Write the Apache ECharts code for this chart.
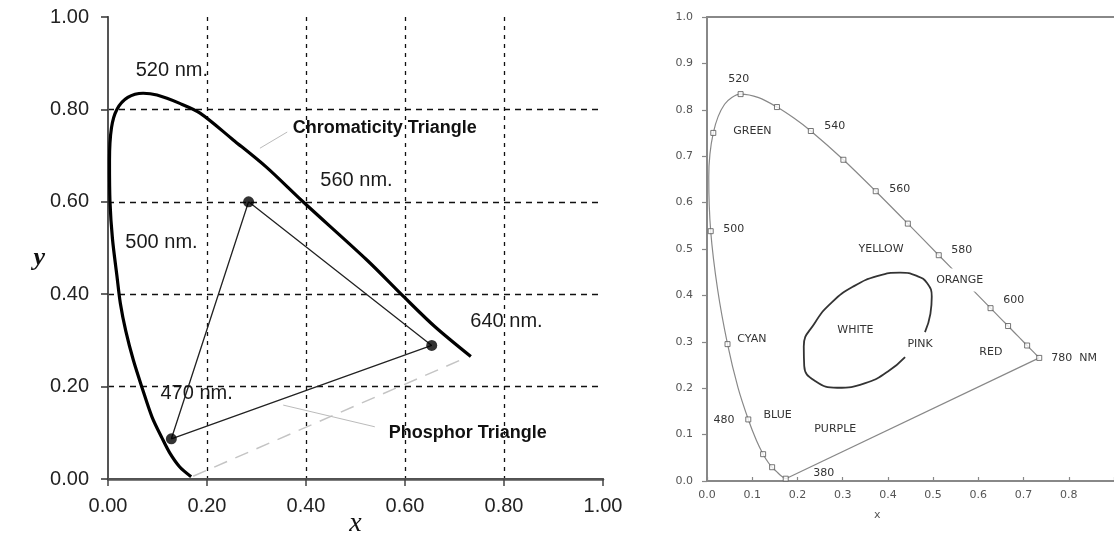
<!DOCTYPE html>
<html>
<head>
<meta charset="utf-8">
<script src="https://cdn.jsdelivr.net/npm/echarts@6.0.0/dist/echarts.min.js"></script>
<style>
html, body { margin: 0; padding: 0; background: #fff; }
#main { width: 1114px; height: 537px; }
</style>
</head>
<body>
<div id="main"></div>
<script>
// ---- left panel ----
var locusLeft = [
    [0.168, 0.005], [0.145, 0.026], [0.125, 0.056], [0.109, 0.089], [0.089, 0.134],
    [0.069, 0.197], [0.051, 0.258], [0.036, 0.320], [0.025, 0.380], [0.018, 0.440],
    [0.009, 0.520], [0.004, 0.600], [0.003, 0.690], [0.007, 0.760], [0.018, 0.800],
    [0.040, 0.826], [0.071, 0.835], [0.099, 0.831], [0.145, 0.813], [0.186, 0.792],
    [0.253, 0.734], [0.320, 0.675], [0.394, 0.600], [0.523, 0.474], [0.598, 0.394],
    [0.660, 0.330], [0.733, 0.265]
];
var phosphor = [[0.284, 0.600], [0.654, 0.289], [0.128, 0.087]];
var purpleLeft = [[0.172, 0.006], [0.722, 0.262]];
var leaderChroma = [[0.307, 0.716], [0.362, 0.751]];
var leaderPhos = [[0.354, 0.160], [0.539, 0.113]];
var notesLeft = [
    [0.055, 0.885, '520 nm.'],
    [0.034, 0.513, '500 nm.'],
    [0.428, 0.647, '560 nm.'],
    [0.731, 0.340, '640 nm.'],
    [0.105, 0.186, '470 nm.']
];
var notesLeftBold = [
    [0.372, 0.760, 'Chromaticity Triangle'],
    [0.566, 0.100, 'Phosphor Triangle']
];
var ticksLeft = ['0.00', '0.20', '0.40', '0.60', '0.80', '1.00'];

// ---- right panel ----
var locusRight = [
    [0.1741, 0.0050], [0.1644, 0.0109], [0.1566, 0.0177], [0.1440, 0.0297], [0.1355, 0.0399],
    [0.1241, 0.0578], [0.1096, 0.0868], [0.0913, 0.1327], [0.0687, 0.2007], [0.0454, 0.2950],
    [0.0235, 0.4127], [0.0082, 0.5384], [0.0039, 0.6548], [0.0139, 0.7502], [0.0389, 0.8120],
    [0.0743, 0.8338], [0.1142, 0.8262], [0.1547, 0.8059], [0.1929, 0.7816], [0.2296, 0.7543],
    [0.3016, 0.6923], [0.3731, 0.6245], [0.4441, 0.5547], [0.5125, 0.4866], [0.5752, 0.4242],
    [0.6270, 0.3725], [0.6658, 0.3340], [0.6915, 0.3083], [0.7079, 0.2920], [0.7190, 0.2809],
    [0.7300, 0.2700], [0.7347, 0.2653]
];
var markersRight = [
    [0.1741, 0.0050], [0.1440, 0.0297], [0.1241, 0.0578], [0.0913, 0.1327], [0.0454, 0.2950],
    [0.0082, 0.5384], [0.0139, 0.7502], [0.0743, 0.8338], [0.1547, 0.8059], [0.2296, 0.7543],
    [0.3016, 0.6923], [0.3731, 0.6245], [0.4441, 0.5547], [0.5125, 0.4866], [0.6270, 0.3725],
    [0.6658, 0.3340], [0.7079, 0.2920], [0.7347, 0.2653]
];
var purpleRight = [[0.1741, 0.0050], [0.7347, 0.2653]];
var whiteArea = [
    [0.482, 0.321], [0.494, 0.360], [0.497, 0.397], [0.487, 0.426], [0.464, 0.442],
    [0.427, 0.449], [0.378, 0.442], [0.325, 0.420], [0.276, 0.385], [0.238, 0.340],
    [0.214, 0.290], [0.215, 0.248], [0.240, 0.215], [0.288, 0.201], [0.350, 0.211],
    [0.400, 0.236], [0.438, 0.267]
];
var notesRight = [
    [0.046, 0.866, '520'], [0.057, 0.754, 'GREEN'], [0.258, 0.765, '540'],
    [0.035, 0.543, '500'], [0.402, 0.629, '560'], [0.334, 0.500, 'YELLOW'],
    [0.539, 0.498, '580'], [0.654, 0.390, '600'],
    [0.287, 0.325, 'WHITE'], [0.442, 0.295, 'PINK'], [0.601, 0.278, 'RED'],
    [0.760, 0.265, '780  NM'], [0.066, 0.306, 'CYAN'], [0.013, 0.131, '480'],
    [0.124, 0.142, 'BLUE'], [0.236, 0.112, 'PURPLE'], [0.234, 0.017, '380']
];
var noteOrange = [[0.499, 0.433, 'ORANGE']];
var ticksRightX = ['0.0', '0.1', '0.2', '0.3', '0.4', '0.5', '0.6', '0.7', '0.8', ''];
var ticksRightY = ['0.0', '0.1', '0.2', '0.3', '0.4', '0.5', '0.6', '0.7', '0.8', '0.9', '1.0'];

var chart = echarts.init(document.getElementById('main'));

function line(data, xi, yi, color, width, type, smooth) {
    return {
        type: 'line', xAxisIndex: xi, yAxisIndex: yi, data: data,
        symbol: 'none', smooth: smooth || false, silent: true,
        lineStyle: { color: color, width: width, type: type || 'solid' },
        z: 3
    };
}

function notes(data, xi, yi, font) {
    return {
        type: 'scatter', xAxisIndex: xi, yAxisIndex: yi, data: data,
        symbolSize: 1, silent: true, itemStyle: { color: 'rgba(0,0,0,0)' },
        label: {
            show: true, position: 'right', distance: 0,
            formatter: function(p) { return p.value[2]; },
            fontFamily: font.family, fontSize: font.size, fontWeight: font.weight || 'normal',
            color: font.color, opacity: 1,
            backgroundColor: font.bg || 'transparent', padding: font.pad || 0
        },
        z: 5
    };
}

var leftFont = 'Liberation Sans';
var rightFont = 'DejaVu Sans';

var option = {
    animation: false,
    backgroundColor: '#fff',
    grid: [
        { left: 108, top: 17, width: 495, height: 462, outerBoundsMode: 'none', containLabel: false },
        { left: 707, top: 17, width: 407, height: 464, outerBoundsMode: 'none', containLabel: false }
    ],
    xAxis: [{
        type: 'value', gridIndex: 0, min: 0, max: 1, interval: 0.2,
        name: 'x', nameLocation: 'middle', nameGap: 31, nameMoveOverlap: false,
        nameTextStyle: { fontFamily: 'Liberation Serif', fontStyle: 'italic', fontSize: 28, color: '#111' },
        axisLine: { lineStyle: { color: '#444', width: 2 } },
        axisTick: { length: 7, lineStyle: { color: '#444', width: 1.5 } },
        axisLabel: {
            margin: 17, fontFamily: leftFont, fontSize: 20, color: '#222',
            formatter: function(v) { return ticksLeft[Math.round(v / 0.2)]; }
        },
        splitLine: { show: true, showMinLine: false, showMaxLine: false,
            lineStyle: { color: '#111', width: 1.3, type: [4, 5] } }
    }, {
        type: 'value', gridIndex: 0, min: 0, max: 1, position: 'top',
        axisLine: { lineStyle: { color: '#555', width: 2.5 } },
        axisTick: { show: false }, axisLabel: { show: false }, splitLine: { show: false }
    }, {
        type: 'value', gridIndex: 1, min: 0, max: 0.9, interval: 0.1,
        axisLine: { lineStyle: { color: '#888', width: 2 } },
        axisTick: { inside: true, length: 4, lineStyle: { color: '#888', width: 1.2 } },
        axisLabel: {
            margin: 9, fontFamily: rightFont, fontSize: 11, color: '#555',
            formatter: function(v) { return ticksRightX[Math.round(v / 0.1)]; }
        },
        splitLine: { show: false }
    }, {
        type: 'value', gridIndex: 1, min: 0, max: 0.9, position: 'top',
        axisLine: { lineStyle: { color: '#888', width: 2 } },
        axisTick: { show: false }, axisLabel: { show: false }, splitLine: { show: false }
    }],
    yAxis: [{
        type: 'value', gridIndex: 0, min: 0, max: 1, interval: 0.2,
        name: 'y', nameLocation: 'middle', nameRotate: 0, nameGap: 63, nameMoveOverlap: false,
        nameTextStyle: { fontFamily: 'Liberation Serif', fontStyle: 'italic', fontWeight: 'bold', fontSize: 26, color: '#111',
            verticalAlign: 'top', lineHeight: 20 },
        axisLine: { lineStyle: { color: '#333', width: 1.5 } },
        axisTick: { length: 7, lineStyle: { color: '#333', width: 1.5 } },
        axisLabel: {
            margin: 19, fontFamily: leftFont, fontSize: 20, color: '#222',
            formatter: function(v) { return ticksLeft[Math.round(v / 0.2)]; }
        },
        splitLine: { show: true, showMinLine: false, showMaxLine: false,
            lineStyle: { color: '#111', width: 1.3, type: [6, 5] } }
    }, {
        type: 'value', gridIndex: 0, min: 0, max: 1, position: 'right',
        axisLine: { lineStyle: { color: '#555', width: 2 } },
        axisTick: { show: false }, axisLabel: { show: false }, splitLine: { show: false }
    }, {
        type: 'value', gridIndex: 1, min: 0, max: 1, interval: 0.1,
        axisLine: { lineStyle: { color: '#888', width: 2 } },
        axisTick: { length: 5, lineStyle: { color: '#888', width: 1.2 } },
        axisLabel: {
            margin: 14, fontFamily: rightFont, fontSize: 11, color: '#555',
            formatter: function(v) { return ticksRightY[Math.round(v / 0.1)]; }
        },
        splitLine: { show: false }
    }],
    graphic: [{
        type: 'text', left: 874, top: 510,
        style: { text: 'x', fontFamily: rightFont, fontSize: 11, fill: '#555' }
    }],
    series: [
        // left
        line(purpleLeft, 0, 0, '#c4c4c4', 1.5, [14, 9]),
        line(leaderChroma, 0, 0, '#bbb', 1),
        line(leaderPhos, 0, 0, '#bbb', 1),
        line(phosphor.concat([phosphor[0]]), 0, 0, '#222', 1.3),
        line(locusLeft, 0, 0, '#000', 3.2, 'solid', 0.3),
        {
            type: 'scatter', xAxisIndex: 0, yAxisIndex: 0, data: phosphor,
            symbolSize: 11, silent: true, itemStyle: { color: '#000' }, z: 4
        },
        notes(notesLeft, 0, 0, { family: leftFont, size: 20, color: '#1a1a1a' }),
        notes(notesLeftBold, 0, 0, { family: leftFont, size: 18, weight: 'bold', color: '#111' }),
        // right
        line(purpleRight, 2, 2, '#888', 1.2),
        line(locusRight, 2, 2, '#888', 1.2, 'solid', 0.3),
        line(whiteArea, 2, 2, '#333', 1.8, 'solid', 0.5),
        {
            type: 'scatter', xAxisIndex: 2, yAxisIndex: 2, data: markersRight,
            symbol: 'rect', symbolSize: 5, silent: true,
            itemStyle: { color: '#fff', borderColor: '#555', borderWidth: 1 }, z: 4
        },
        notes(notesRight, 2, 2, { family: rightFont, size: 11, color: '#333' }),
        notes(noteOrange, 2, 2, { family: rightFont, size: 11, color: '#333', bg: '#fff', pad: [6, 3] })
    ]
};
chart.setOption(option);
</script>
</body>
</html>
